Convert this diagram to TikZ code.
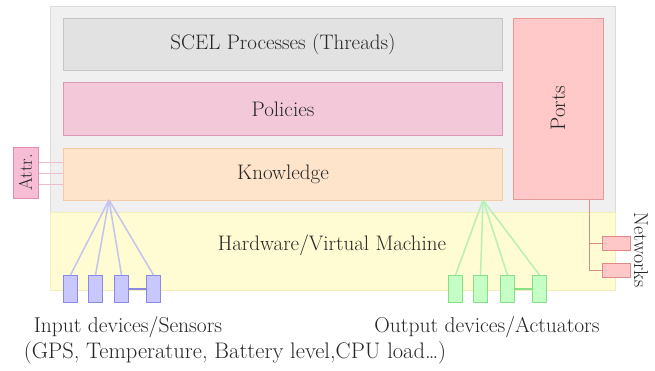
\documentclass[tikz,border=0pt]{standalone}
\usetikzlibrary{calc}
\definecolor{outerfill}{HTML}{F0F0F0}
\definecolor{outerdraw}{HTML}{DCDCDC}
\definecolor{hwfill}{HTML}{FFFBD2}
\definecolor{hwdraw}{HTML}{F3EDB8}
\definecolor{scelfill}{HTML}{E2E2E2}
\definecolor{sceldraw}{HTML}{C6C6C6}
\definecolor{polfill}{HTML}{F3C9D9}
\definecolor{poldraw}{HTML}{D898B5}
\definecolor{knowfill}{HTML}{FEE4CA}
\definecolor{knowdraw}{HTML}{F3CBA4}
\definecolor{portfill}{HTML}{FFC9C9}
\definecolor{portdraw}{HTML}{E89A9A}
\definecolor{attrfill}{HTML}{F7BDD4}
\definecolor{attrdraw}{HTML}{E38DB2}
\definecolor{infill}{HTML}{C8C8FF}
\definecolor{indraw}{HTML}{8A8AE6}
\definecolor{inline}{HTML}{C4C4EE}
\definecolor{outfill}{HTML}{C6FFC6}
\definecolor{outdraw}{HTML}{86E086}
\definecolor{outline}{HTML}{B8F0B8}
\definecolor{netfill}{HTML}{FFC8C8}
\definecolor{netdraw}{HTML}{E08A8A}
\definecolor{txt}{HTML}{262626}
\tikzset{
  layer/.style={draw, line width=1pt, inner sep=0pt, anchor=north west, text=txt,
    font=\fontsize{21}{25}\selectfont},
  dev/.style={draw, line width=1pt, inner sep=0pt, anchor=north west,
    minimum width=14pt, minimum height=27pt},
  netbox/.style={draw=netdraw, fill=netfill, line width=1pt, inner sep=0pt, anchor=north west,
    minimum width=28pt, minimum height=14pt},
  lbl/.style={text=txt, inner sep=0pt, font=\fontsize{21}{25}\selectfont},
  caption/.style={text=txt, inner sep=0pt, font=\fontsize{21.5}{25}\selectfont},
  inlink/.style={draw=inline, line width=1.5pt},
  outlink/.style={draw=outline, line width=1.5pt},
  attrlink/.style={draw=attrdraw!60, line width=0.8pt},
  netlink/.style={draw=netdraw, line width=0.8pt}
}
\begin{document}
\begin{tikzpicture}[x=1pt,y=-1pt]
\useasboundingbox (0,0) rectangle (655,370);
% containers
\node[layer, draw=outerdraw, fill=outerfill, minimum width=565pt, minimum height=206pt] (outer) at (50,6) {};
\node[layer, draw=hwdraw, fill=hwfill, minimum width=565pt, minimum height=78pt] (hw) at (50,212) {};
\node[lbl] (hwlabel) at (332,245) {Hardware/Virtual Machine};
% layers
\node[layer, draw=sceldraw, fill=scelfill, minimum width=439pt, minimum height=52pt] (scel) at (63,18) {SCEL Processes (Threads)};
\node[layer, draw=poldraw, fill=polfill, minimum width=439pt, minimum height=53pt] (pol) at (63,82) {Policies};
\node[layer, draw=knowdraw, fill=knowfill, minimum width=439pt, minimum height=52pt] (know) at (63,148) {Knowledge};
\node[layer, draw=portdraw, fill=portfill, minimum width=90pt, minimum height=181pt] (ports) at (513,18) {};
\node[lbl, rotate=90] (portslabel) at (558,108) {Ports};
\node[layer, draw=attrdraw, fill=attrfill, minimum width=25pt, minimum height=51pt] (attr) at (13,147) {};
\node[lbl, rotate=90, font=\fontsize{18.5}{20}\selectfont] (attrlabel) at (25.5,172.5) {Attr.};
% attribute links
\draw[attrlink] ([yshift=11pt]attr.east) -- ([yshift=11pt]attr.east -| know.west);
\draw[attrlink] (attr.east) -- (attr.east -| know.west);
\draw[attrlink] ([yshift=-11pt]attr.east) -- ([yshift=-11pt]attr.east -| know.west);
% input devices
\coordinate (inapex) at (109,200);
\node[dev, draw=indraw, fill=infill] (in1) at (63,275) {};
\node[dev, draw=indraw, fill=infill] (in2) at (88,275) {};
\node[dev, draw=indraw, fill=infill] (in3) at (114,275) {};
\node[dev, draw=indraw, fill=infill] (in4) at (146,275) {};
\foreach \n in {in1,in2,in3,in4} \draw[inlink] (inapex) -- (\n.north);
\draw[draw=indraw, line width=1.2pt] (in3.east) -- (in4.west);
% output devices
\coordinate (outapex) at (483,200);
\node[dev, draw=outdraw, fill=outfill] (out1) at (448,275) {};
\node[dev, draw=outdraw, fill=outfill] (out2) at (473,275) {};
\node[dev, draw=outdraw, fill=outfill] (out3) at (500,275) {};
\node[dev, draw=outdraw, fill=outfill] (out4) at (532,275) {};
\foreach \n in {out1,out2,out3,out4} \draw[outlink] (outapex) -- (\n.north);
\draw[draw=outdraw, line width=1.2pt] (out3.east) -- (out4.west);
% networks
\node[netbox] (net1) at (602,236) {};
\node[netbox] (net2) at (602,263) {};
\draw[netlink] ([xshift=31pt]ports.south) |- (net2.west);
\draw[netlink] ([xshift=31pt]ports.south |- net1.west) -- (net1.west);
\node[lbl, rotate=-90, font=\fontsize{20}{22}\selectfont] (netlabel) at (641,250) {Networks};
% captions
\node[caption] (incap) at (128,327) {Input devices/Sensors};
\node[caption] (outcap) at (487,327) {Output devices/Actuators};
\node[caption, font=\fontsize{22.5}{25}\selectfont] (examples) at (235,353) {(GPS, Temperature, Battery level,CPU load\ldots)};
\end{tikzpicture}
\end{document}
